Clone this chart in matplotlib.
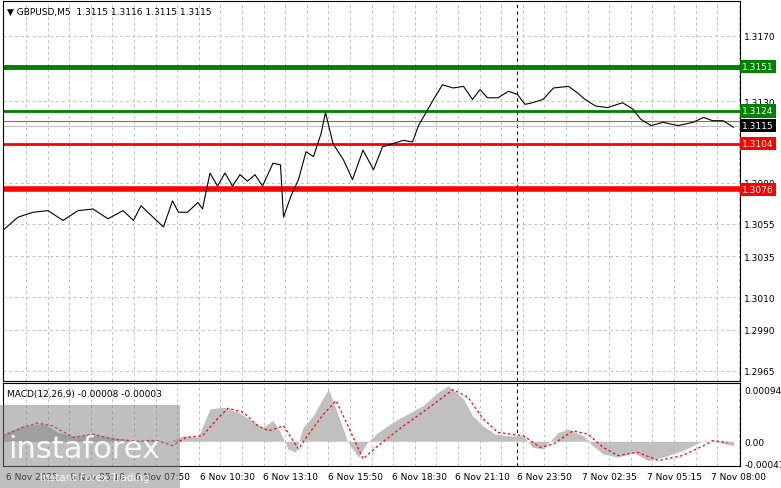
import numpy as np
import matplotlib.pyplot as plt
from matplotlib.patches import Rectangle

# price trace (x in chart pixels / 1.5, price)
px = [0, 10, 20, 30, 40, 50, 60, 70, 80, 87, 92, 100, 107, 113, 117, 123, 130, 133, 138, 143, 148, 153, 158, 163, 168, 173,
      180, 185, 187, 192, 197, 202, 207, 212, 215, 220, 227, 233, 240, 247, 253, 260, 267, 273, 277, 282, 287, 293, 300, 307,
      313, 318, 323, 330, 337, 343, 348, 353, 360, 367, 377, 383, 388, 395, 403, 413, 420, 425, 432, 440, 450, 460, 467, 473, 480, 487]
price = [1.3051, 1.3059, 1.3062, 1.3063, 1.3057, 1.3063, 1.3064, 1.3058, 1.3063, 1.3057, 1.3066, 1.3059, 1.3053, 1.3069, 1.3062,
         1.3062, 1.3068, 1.3064, 1.3086, 1.3078, 1.3086, 1.3078, 1.3085, 1.3081, 1.3085, 1.3078, 1.3092, 1.3091, 1.3059, 1.3072,
         1.3082, 1.3099, 1.3096, 1.3110, 1.3123, 1.3104, 1.3094, 1.3082, 1.3100, 1.3088, 1.3102, 1.3104, 1.3106, 1.3105, 1.3115,
         1.3123, 1.3131, 1.3140, 1.3138, 1.3139, 1.3131, 1.3137, 1.3132, 1.3132, 1.3136, 1.3134, 1.3128, 1.3129, 1.3131, 1.3138,
         1.3139, 1.3135, 1.3131, 1.3127, 1.3126, 1.3129, 1.3125, 1.3119, 1.3115, 1.3117, 1.3115, 1.3117, 1.3120, 1.3118, 1.3118, 1.3114]

# MACD histogram and signal
hx = [0, 13, 27, 37, 47, 60, 73, 87, 100, 110, 120, 130, 138, 147, 157, 167, 173, 180, 185, 190, 195, 200, 207, 213, 217, 222,
      230, 237, 243, 250, 260, 270, 280, 290, 297, 307, 313, 320, 328, 337, 347, 353, 360, 370, 377, 387, 393, 400, 410, 420,
      430, 440, 453, 467, 477, 487]
hist = [0.00013, 0.00028, 0.00032, 0.00016, 0.0001, 0.00013, 0.00007, 0.00001, 0.00004, -0.00002, 0.0001, 0.00007, 0.00059,
        0.00062, 0.00053, 0.00035, 0.00025, 0.00038, 0.00016, -0.00014, -0.0002, 0.00025, 0.00047, 0.00077, 0.00095, 0.00059,
        -0.00002, -0.00029, -0.00002, 0.00016, 0.00035, 0.0005, 0.00065, 0.00089, 0.00101, 0.00077, 0.00047, 0.00028, 0.00013,
        0.0001, 0.0001, -0.00011, -0.00014, 0.00016, 0.00022, 0.0001, -0.00008, -0.00023, -0.00029, -0.0002, -0.00035, -0.00029,
        -0.00017, 0.00001, -0.00002, -0.00008]
sx = [0, 13, 23, 33, 47, 60, 73, 90, 103, 113, 122, 133, 143, 150, 160, 170, 177, 187, 197, 203, 213, 222, 230, 240, 250, 267,
      283, 300, 310, 320, 330, 347, 358, 367, 380, 390, 400, 410, 423, 437, 453, 467, 473, 483]
signal = [0.0001, 0.00025, 0.00033, 0.00028, 0.00007, 0.00013, 0.00004, 0.0, 0.00001, -0.00008, 0.00007, 0.0001, 0.00041, 0.0006,
          0.00053, 0.00028, 0.00019, 0.00028, -0.00014, 0.0001, 0.00047, 0.00074, 0.00028, -0.00032, -0.00008, 0.00028, 0.00059,
          0.00094, 0.0008, 0.00041, 0.00016, 0.0001, -0.00011, -0.00005, 0.00019, 0.00013, -0.00011, -0.00026, -0.0002, -0.00035,
          -0.00026, -0.00008, 0.00001, -0.00002]

levels = [1.3151, 1.3124, 1.3104, 1.3076]
level_colors = ['#008000', '#008000', '#ff0000', '#ff0000']
level_widths = [3.5, 2, 2, 4]

price_ticks = [1.3170, 1.3130, 1.3080, 1.3055, 1.3035, 1.3010, 1.2990, 1.2965]
time_labels = ['6 Nov 2025', '6 Nov 05:10', '6 Nov 07:50', '6 Nov 10:30', '6 Nov 13:10', '6 Nov 15:50',
               '6 Nov 18:30', '6 Nov 21:10', '6 Nov 23:50', '7 Nov 02:35', '7 Nov 05:15', '7 Nov 08:00']
time_pos = [3, 67, 132, 197, 260, 325, 389, 452, 514, 579, 644, 708]

W, H = 781, 489
fig = plt.figure(figsize=(7.81, 4.89), dpi=100)
ax = fig.add_axes([3 / W, 1 - 382 / H, 737 / W, 380 / H])
ax2 = fig.add_axes([3 / W, 1 - 467 / H, 737 / W, 83 / H])

y0, y1 = 1.29588, 1.31912
for a in (ax, ax2):
    a.set_xlim(0, 737)
    for s in a.spines.values():
        s.set_linewidth(0.8)
    a.tick_params(length=0, labelsize=6.5, pad=3)
    a.yaxis.tick_right()
    for g in np.arange(23, 737, 21.6):
        a.axvline(g, color='#c0c0c0', ls=(0, (3, 3)), lw=0.7, zorder=0)
    a.axvline(514, color='black', ls=(0, (3, 3)), lw=0.8, zorder=1)
ax.set_ylim(y0, y1)
ax.set_yticks(price_ticks)
ax.set_yticklabels(['%.4f' % t for t in price_ticks])
for t in price_ticks:
    ax.axhline(t, color='#c0c0c0', ls=(0, (3, 3)), lw=0.7, zorder=0)
ax.set_xticks([])

ax.plot(np.array(px) * 1.5, price, color='black', lw=0.8, zorder=3)
for lv, c, lw in zip(levels, level_colors, level_widths):
    ax.axhline(lv, color=c, lw=lw, zorder=2)
    ax.text(1.003, (lv - y0) / (y1 - y0), '%.4f' % lv, transform=ax.transAxes, color='white', fontsize=6.5,
            va='center', ha='left', bbox=dict(boxstyle='square,pad=0.25', fc=c, ec='none'), clip_on=False, zorder=5)
ax.axhline(1.3118, color='#ff4500', lw=0.8, zorder=2)
ax.axhline(1.3115, color='#c0c0c0', lw=0.8, zorder=2)
ax.text(1.003, (1.3115 - y0) / (y1 - y0), '1.3115', transform=ax.transAxes, color='white', fontsize=6.5,
        va='center', ha='left', bbox=dict(boxstyle='square,pad=0.25', fc='black', ec='none'), clip_on=False, zorder=5)
ax.text(0.006, 0.985, '\u25bc GBPUSD,M5  1.3115 1.3116 1.3115 1.3115', transform=ax.transAxes, fontsize=6.5, va='top')

ax2.set_ylim(-0.00045, 0.00106)
ax2.set_yticks([0.00094, 0.0, -0.00041])
ax2.set_yticklabels(['0.00094', '0.00', '-0.00041'])
ax2.fill_between(np.array(hx) * 1.5, 0, hist, color='#c0c0c0', lw=0, zorder=2)
ax2.plot(np.array(sx) * 1.5, signal, color='red', ls=(0, (2, 2)), lw=0.9, zorder=3)
ax2.text(0.006, 0.93, 'MACD(12,26,9) -0.00008 -0.00003', transform=ax2.transAxes, fontsize=6.5, va='top')
ax2.set_xticks(time_pos)
ax2.set_xticklabels(time_labels, ha='left')
ax2.tick_params(axis='x', pad=4)

# watermark
fig.patches.append(Rectangle((0, 0), 180 / W, 83 / H, transform=fig.transFigure, fc='#808080', alpha=0.5, ec='none', zorder=5))
fig.text(8 / W, 1 - 450 / H, 'instaforex', fontsize=22, color='white', alpha=0.9, zorder=6, va='center')
fig.text(40 / W, 1 - 478 / H, 'Instant Forex Trading', fontsize=7.5, color='white', alpha=0.9, zorder=6, va='center')

fig.savefig('out.png', dpi=100)
